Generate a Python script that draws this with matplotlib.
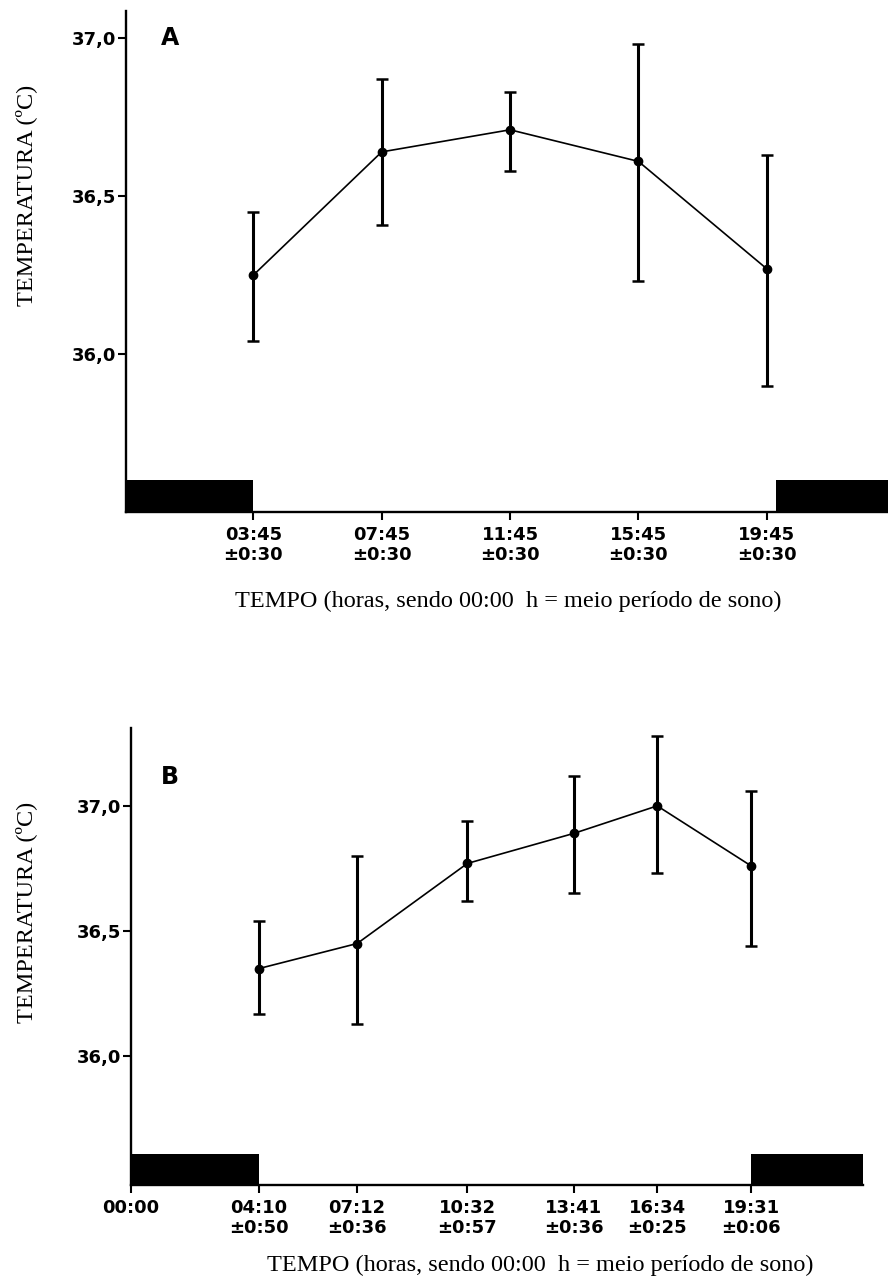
import numpy as np
import matplotlib
matplotlib.use("Agg")
import matplotlib.pyplot as plt

# Panel A: fixed sampling times (hours after mid-sleep)
a_hours = [3.75, 7.75, 11.75, 15.75, 19.75]
a_ticks = ["03:45\n±0:30", "07:45\n±0:30", "11:45\n±0:30", "15:45\n±0:30", "19:45\n±0:30"]
a_mean = [36.25, 36.64, 36.71, 36.61, 36.27]
a_low = [36.04, 36.41, 36.58, 36.23, 35.90]
a_high = [36.45, 36.87, 36.83, 36.98, 36.63]
a_sleep = [(-1.0, 3.75), (20.04, 25.0)]

# Panel B: mean times of each sample
b_hours = [4.03, 7.11, 10.57, 13.91, 16.53, 19.48]
b_ticks = ["04:10\n±0:50", "07:12\n±0:36", "10:32\n±0:57",
           "13:41\n±0:36", "16:34\n±0:25", "19:31\n±0:06"]
b_mean = [36.35, 36.45, 36.77, 36.89, 37.00, 36.76]
b_low = [36.17, 36.13, 36.62, 36.65, 36.73, 36.44]
b_high = [36.54, 36.80, 36.94, 37.12, 37.28, 37.06]
b_sleep = [(0.0, 4.03), (19.48, 23.0)]

yticks = [36.0, 36.5, 37.0]
ytick_labels = ["36,0", "36,5", "37,0"]

XLABEL = "TEMPO (horas, sendo 00:00  h = meio período de sono)"
YLABEL = "TEMPERATURA (ºC)"

W, H = 888, 1279
TICK_FS = 13
fig = plt.figure(figsize=(W / 100, H / 100), dpi=100)


def box(left, top, right, bottom):
    """pixel box -> figure fraction rect"""
    return [left / W, 1 - bottom / H, (right - left) / W, (bottom - top) / H]


def style_ticklabels(ax):
    for lbl in ax.get_xticklabels() + ax.get_yticklabels():
        lbl.set_fontweight("bold")
        lbl.set_fontsize(TICK_FS)
        lbl.set_family("DejaVu Sans")


def draw_panel(ax, hours, ticks, mean, low, high, sleep, xlim, ylim, bar_top, letter, letter_xy):
    mean = np.array(mean)
    yerr = [mean - np.array(low), np.array(high) - mean]
    ax.plot(hours, mean, color="black", lw=1.2, zorder=3)
    ax.errorbar(hours, mean, yerr=yerr, fmt="o", color="black", ms=6,
                elinewidth=2.2, capsize=4, capthick=1.8, zorder=4)

    # sleep periods as black bars sitting on the x axis
    ax.broken_barh([(s, e - s) for s, e in sleep], (ylim[0], bar_top - ylim[0]),
                   facecolor="black", edgecolor="none", zorder=2)

    ax.set_xlim(*xlim)
    ax.set_ylim(*ylim)
    ax.set_yticks(yticks)
    ax.set_yticklabels(ytick_labels)
    ax.set_xticks(hours)
    ax.set_xticklabels(ticks, linespacing=1.15)

    for side in ("top", "right"):
        ax.spines[side].set_visible(False)
    for side in ("left", "bottom"):
        ax.spines[side].set_linewidth(1.7)
    ax.tick_params(axis="both", direction="out", width=1.5, length=6)
    ax.tick_params(axis="y", pad=1)
    ax.tick_params(axis="x", pad=4)
    style_ticklabels(ax)

    ax.text(letter_xy[0], letter_xy[1], letter, fontsize=17, fontweight="bold",
            ha="center", va="center", family="DejaVu Sans")


axA = fig.add_axes(box(126, 10.7, 888, 512))
draw_panel(axA, a_hours, a_ticks, a_mean, a_low, a_high, a_sleep,
           (-0.22, 23.53), (35.5, 37.087), 35.6, "A", (1.15, 37.0))

axB = fig.add_axes(box(130.7, 728.3, 863.3, 1185))
draw_panel(axB, b_hours, b_ticks, b_mean, b_low, b_high, b_sleep,
           (0.0, 23.0), (35.485, 37.31), 35.61, "B", (1.23, 37.114))
# extra 00:00 tick at the origin of panel B
axB.set_xticks([0.0] + b_hours)
axB.set_xticklabels(["00:00\n "] + b_ticks, linespacing=1.15)
style_ticklabels(axB)

serif = "Liberation Serif"
fig.text(508 / W, 1 - 601 / H, XLABEL, ha="center", va="center", fontsize=17.5, family=serif)
fig.text(540 / W, 1 - 1265 / H, XLABEL, ha="center", va="center", fontsize=17.5, family=serif)
fig.text(26 / W, 1 - 195 / H, YLABEL, ha="center", va="center", rotation=90, fontsize=17.5, family=serif)
fig.text(26 / W, 1 - 912 / H, YLABEL, ha="center", va="center", rotation=90, fontsize=17.5, family=serif)

fig.savefig("out.png", dpi=100, facecolor="white")
